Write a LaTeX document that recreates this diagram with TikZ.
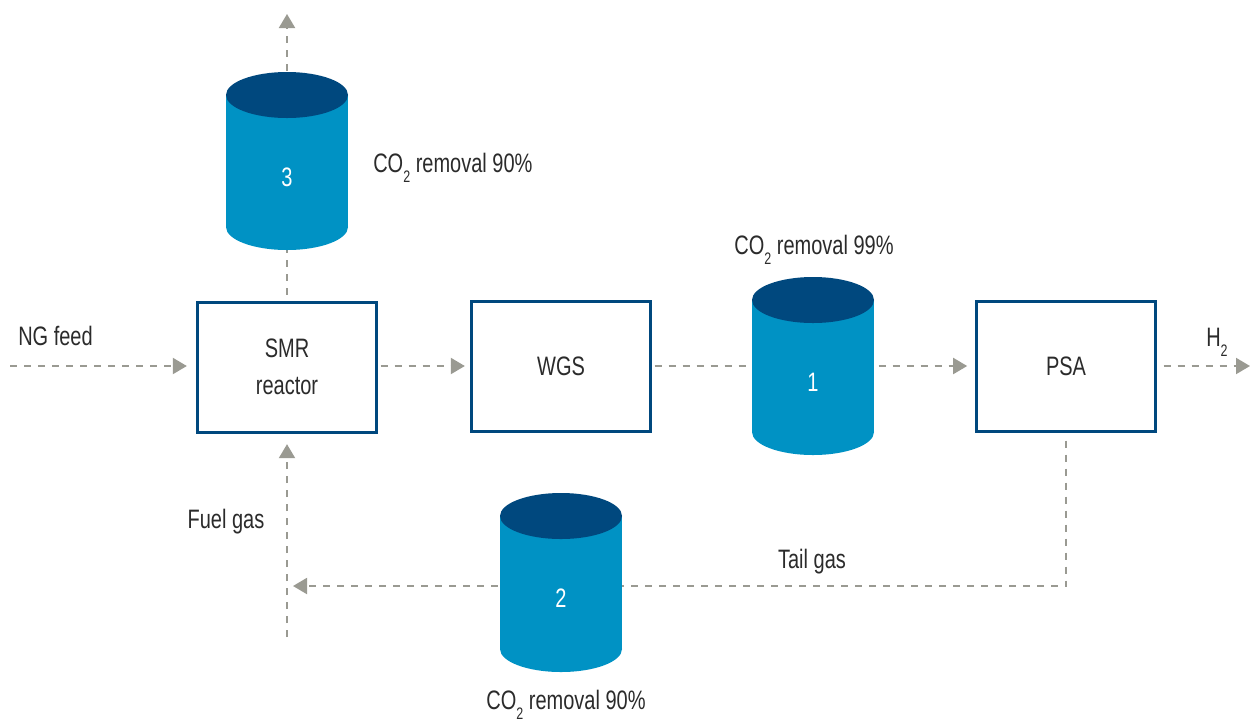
\documentclass[tikz,border=0pt]{standalone}
\usepackage{fontspec}
\setmainfont[FakeStretch=0.75]{Liberation Sans}
\usetikzlibrary{arrows.meta}
\definecolor{dblue}{HTML}{00487E}
\definecolor{lblue}{HTML}{0092C4}
\definecolor{flowgrey}{HTML}{9A9A92}
\definecolor{txt}{HTML}{2B2B2B}
\newcommand\subtwo{\raisebox{-0.4em}{\fontsize{12.5}{12.5}\selectfont 2}}
\newcommand\tank[5]{%
  \fill[lblue] (#2-61,#3) rectangle (#2+61,#4);
  \fill[lblue] (#2,#4) ellipse [x radius=61, y radius=23];
  \fill[dblue] (#2,#3) ellipse [x radius=61, y radius=23];
  \node[num] (#1) at (#2,{(#3+#4)/2+16}) {#5};}
\begin{document}
\begin{tikzpicture}[x=0.75pt,y=-0.75pt,
  procbox/.style={draw=dblue, line width=2.25pt, fill=white, minimum width=134pt, minimum height=97.5pt, inner sep=0pt, align=center, font=\fontsize{20}{28}\selectfont, text=txt},
  flow/.style={draw=flowgrey, line width=1.5pt, dash pattern=on 5.25pt off 5.25pt, -{Triangle[length=10.5pt,width=12pt]}},
  lab/.style={text=txt, font=\fontsize{20}{22}\selectfont, inner sep=0pt},
  num/.style={text=white, font=\fontsize{20}{22}\selectfont, inner sep=0pt}]
\path[use as bounding box] (0,0) rectangle (1252,722);

% process boxes
\node[procbox] (smr) at (287,367) {SMR\\reactor};
\node[procbox] (wgs) at (561,366) {WGS};
\node[procbox] (psa) at (1066,366) {PSA};

% free ends
\coordinate (ngstart) at (10,366);
\coordinate (h2end) at (1250,366);
\coordinate (co2out) at (287,14);
\coordinate (tailcorner) at (1066,586);
\coordinate (fuelend) at (293,586);
\coordinate (fuelstart) at (287,637);

% flows
\draw[flow] (ngstart) -- ([xshift=-7pt]smr.west |- ngstart);
\draw[flow] ([xshift=2pt]smr.east |- wgs) -- ([xshift=-4pt]wgs.west);
\draw[flow] ([xshift=2pt]wgs.east) -- ([xshift=-6pt]psa.west);
\draw[flow] ([xshift=5pt]psa.east) -- (h2end);
\draw[flow] ([yshift=4.5pt]smr.north) -- (co2out);
\draw[flow] ([yshift=-6pt]psa.south) -- (tailcorner) -- (fuelend);
\draw[flow] (fuelstart) -- ([yshift=-8pt]smr.south);

% tanks
\tank{t3}{287}{95}{227}{3}
\tank{t1}{813}{300}{432}{1}
\tank{t2}{561}{516}{649}{2}

% labels
\node[lab, anchor=west] (nglab) at (18,336) {NG feed};
\node[lab] (fuellab) at (226,522) {Fuel gas};
\node[lab] (taillab) at (812,562) {Tail gas};
\node[lab, anchor=base west] (h2lab) at (1206,346) {H\subtwo};
\node[lab, anchor=base west] (co3lab) at (373,172) {CO\subtwo\ removal 90\%};
\node[lab, anchor=base] (co1lab) at (814,254) {CO\subtwo\ removal 99\%};
\node[lab, anchor=base] (co2lab) at (566,709) {CO\subtwo\ removal 90\%};
\end{tikzpicture}
\end{document}
